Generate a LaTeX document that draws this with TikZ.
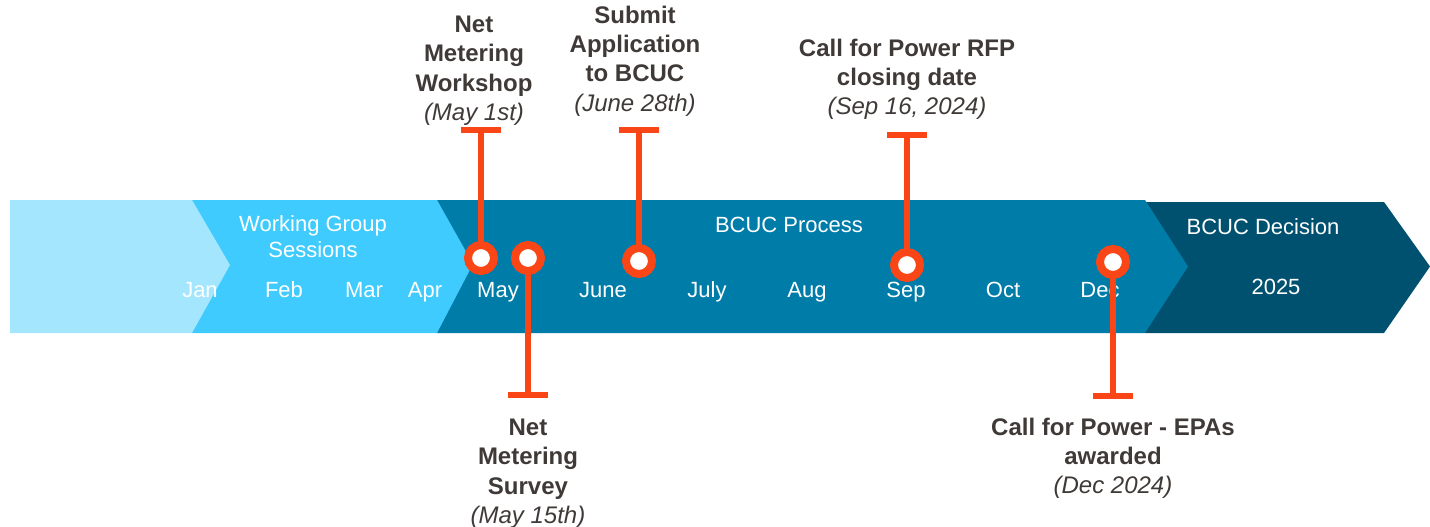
\documentclass[tikz,border=0pt]{standalone}
\usepackage{fontspec}
\setmainfont{Liberation Sans}
\definecolor{segA}{HTML}{A3E6FD}
\definecolor{segB}{HTML}{3FCBFE}
\definecolor{segC}{HTML}{007CA9}
\definecolor{segD}{HTML}{00516F}
\definecolor{mark}{HTML}{FA4616}
\definecolor{notegray}{HTML}{3F3A37}
\begin{document}
\begin{tikzpicture}[x=1pt,y=-1pt,
  every node/.style={inner sep=0pt, outer sep=0pt},
  bartext/.style={text=white, font=\fontsize{22}{26}\selectfont, anchor=base},
  note/.style={text=notegray, font=\fontsize{24}{29.3}\selectfont\bfseries, align=center, anchor=north},
  dot/.style={circle, draw=mark, fill=white, line width=8pt, minimum size=26pt},
  stem/.style={draw=mark, line width=5.5pt},
  tbar/.style={draw=mark, line width=6pt},
]
\useasboundingbox (0,0) rectangle (1430,527);

% timeline chevrons, back to front
\fill[segD] (1145,202) -- (1384,202) -- (1430,266.5) -- (1384,333) -- (1145,333) -- cycle;
\fill[segC] (437,200) -- (1145,200) -- (1188,266.5) -- (1145,333) -- (437,333) -- cycle;
\fill[segB] (192,200) -- (437,200) -- (473,264) -- (437,333) -- (192,333) -- cycle;
\fill[segA] (10,200) -- (192,200) -- (230,265) -- (192,333) -- (10,333) -- cycle;

% phase labels
\node[bartext, anchor=north, align=center] (wg) at (313,216) {Working Group\\Sessions};
\node[bartext] (proc) at (789,232) {BCUC Process};
\node[bartext] (dec) at (1263,234) {BCUC Decision};
\node[bartext] (y25) at (1276,294) {2025};

% months
\node[bartext] (jan) at (200,297) {Jan};
\node[bartext] (feb) at (284,297) {Feb};
\node[bartext] (mar) at (364,297) {Mar};
\node[bartext] (apr) at (425,297) {Apr};
\node[bartext] (may) at (498,297) {May};
\node[bartext] (jun) at (603,297) {June};
\node[bartext] (jul) at (707,297) {July};
\node[bartext] (aug) at (807,297) {Aug};
\node[bartext] (sep) at (906,297) {Sep};
\node[bartext] (oct) at (1003,297) {Oct};
\node[bartext] (decm) at (1100,297) {Dec};

% milestone ends
\coordinate (t1) at (481,130);
\coordinate (t2) at (528,395);
\coordinate (t3) at (639,130);
\coordinate (t4) at (907,135);
\coordinate (t5) at (1113,396);

% milestone stems and bars
\draw[stem] (481,258) -- (t1);
\draw[stem] (528,258) -- (t2);
\draw[stem] (639,261) -- (t3);
\draw[stem] (907,265) -- (t4);
\draw[stem] (1113,262) -- (t5);
\draw[tbar] ([xshift=-20pt]t1) -- ([xshift=20pt]t1);
\draw[tbar] ([xshift=-20pt]t2) -- ([xshift=20pt]t2);
\draw[tbar] ([xshift=-20pt]t3) -- ([xshift=20pt]t3);
\draw[tbar] ([xshift=-20pt]t4) -- ([xshift=20pt]t4);
\draw[tbar] ([xshift=-20pt]t5) -- ([xshift=20pt]t5);

% milestone dots
\node[dot] (m1) at (481,258) {};
\node[dot] (m2) at (528,258) {};
\node[dot] (m3) at (639,261) {};
\node[dot] (m4) at (907,265) {};
\node[dot] (m5) at (1113,262) {};

% milestone notes
\node[note] (n1) at (474,16) {Net\\Metering\\Workshop\\{\mdseries\itshape (May 1st)}};
\node[note] (n2) at (528,419) {Net\\Metering\\Survey\\{\mdseries\itshape (May 15th)}};
\node[note] (n3) at (635,6) {Submit\\Application\\to BCUC\\{\mdseries\itshape (June 28th)}};
\node[note] (n4) at (907,39) {Call for Power RFP\\closing date\\{\mdseries\itshape (Sep 16, 2024)}};
\node[note] (n5) at (1113,418) {Call for Power - EPAs\\awarded\\{\mdseries\itshape (Dec 2024)}};
\end{tikzpicture}
\end{document}
